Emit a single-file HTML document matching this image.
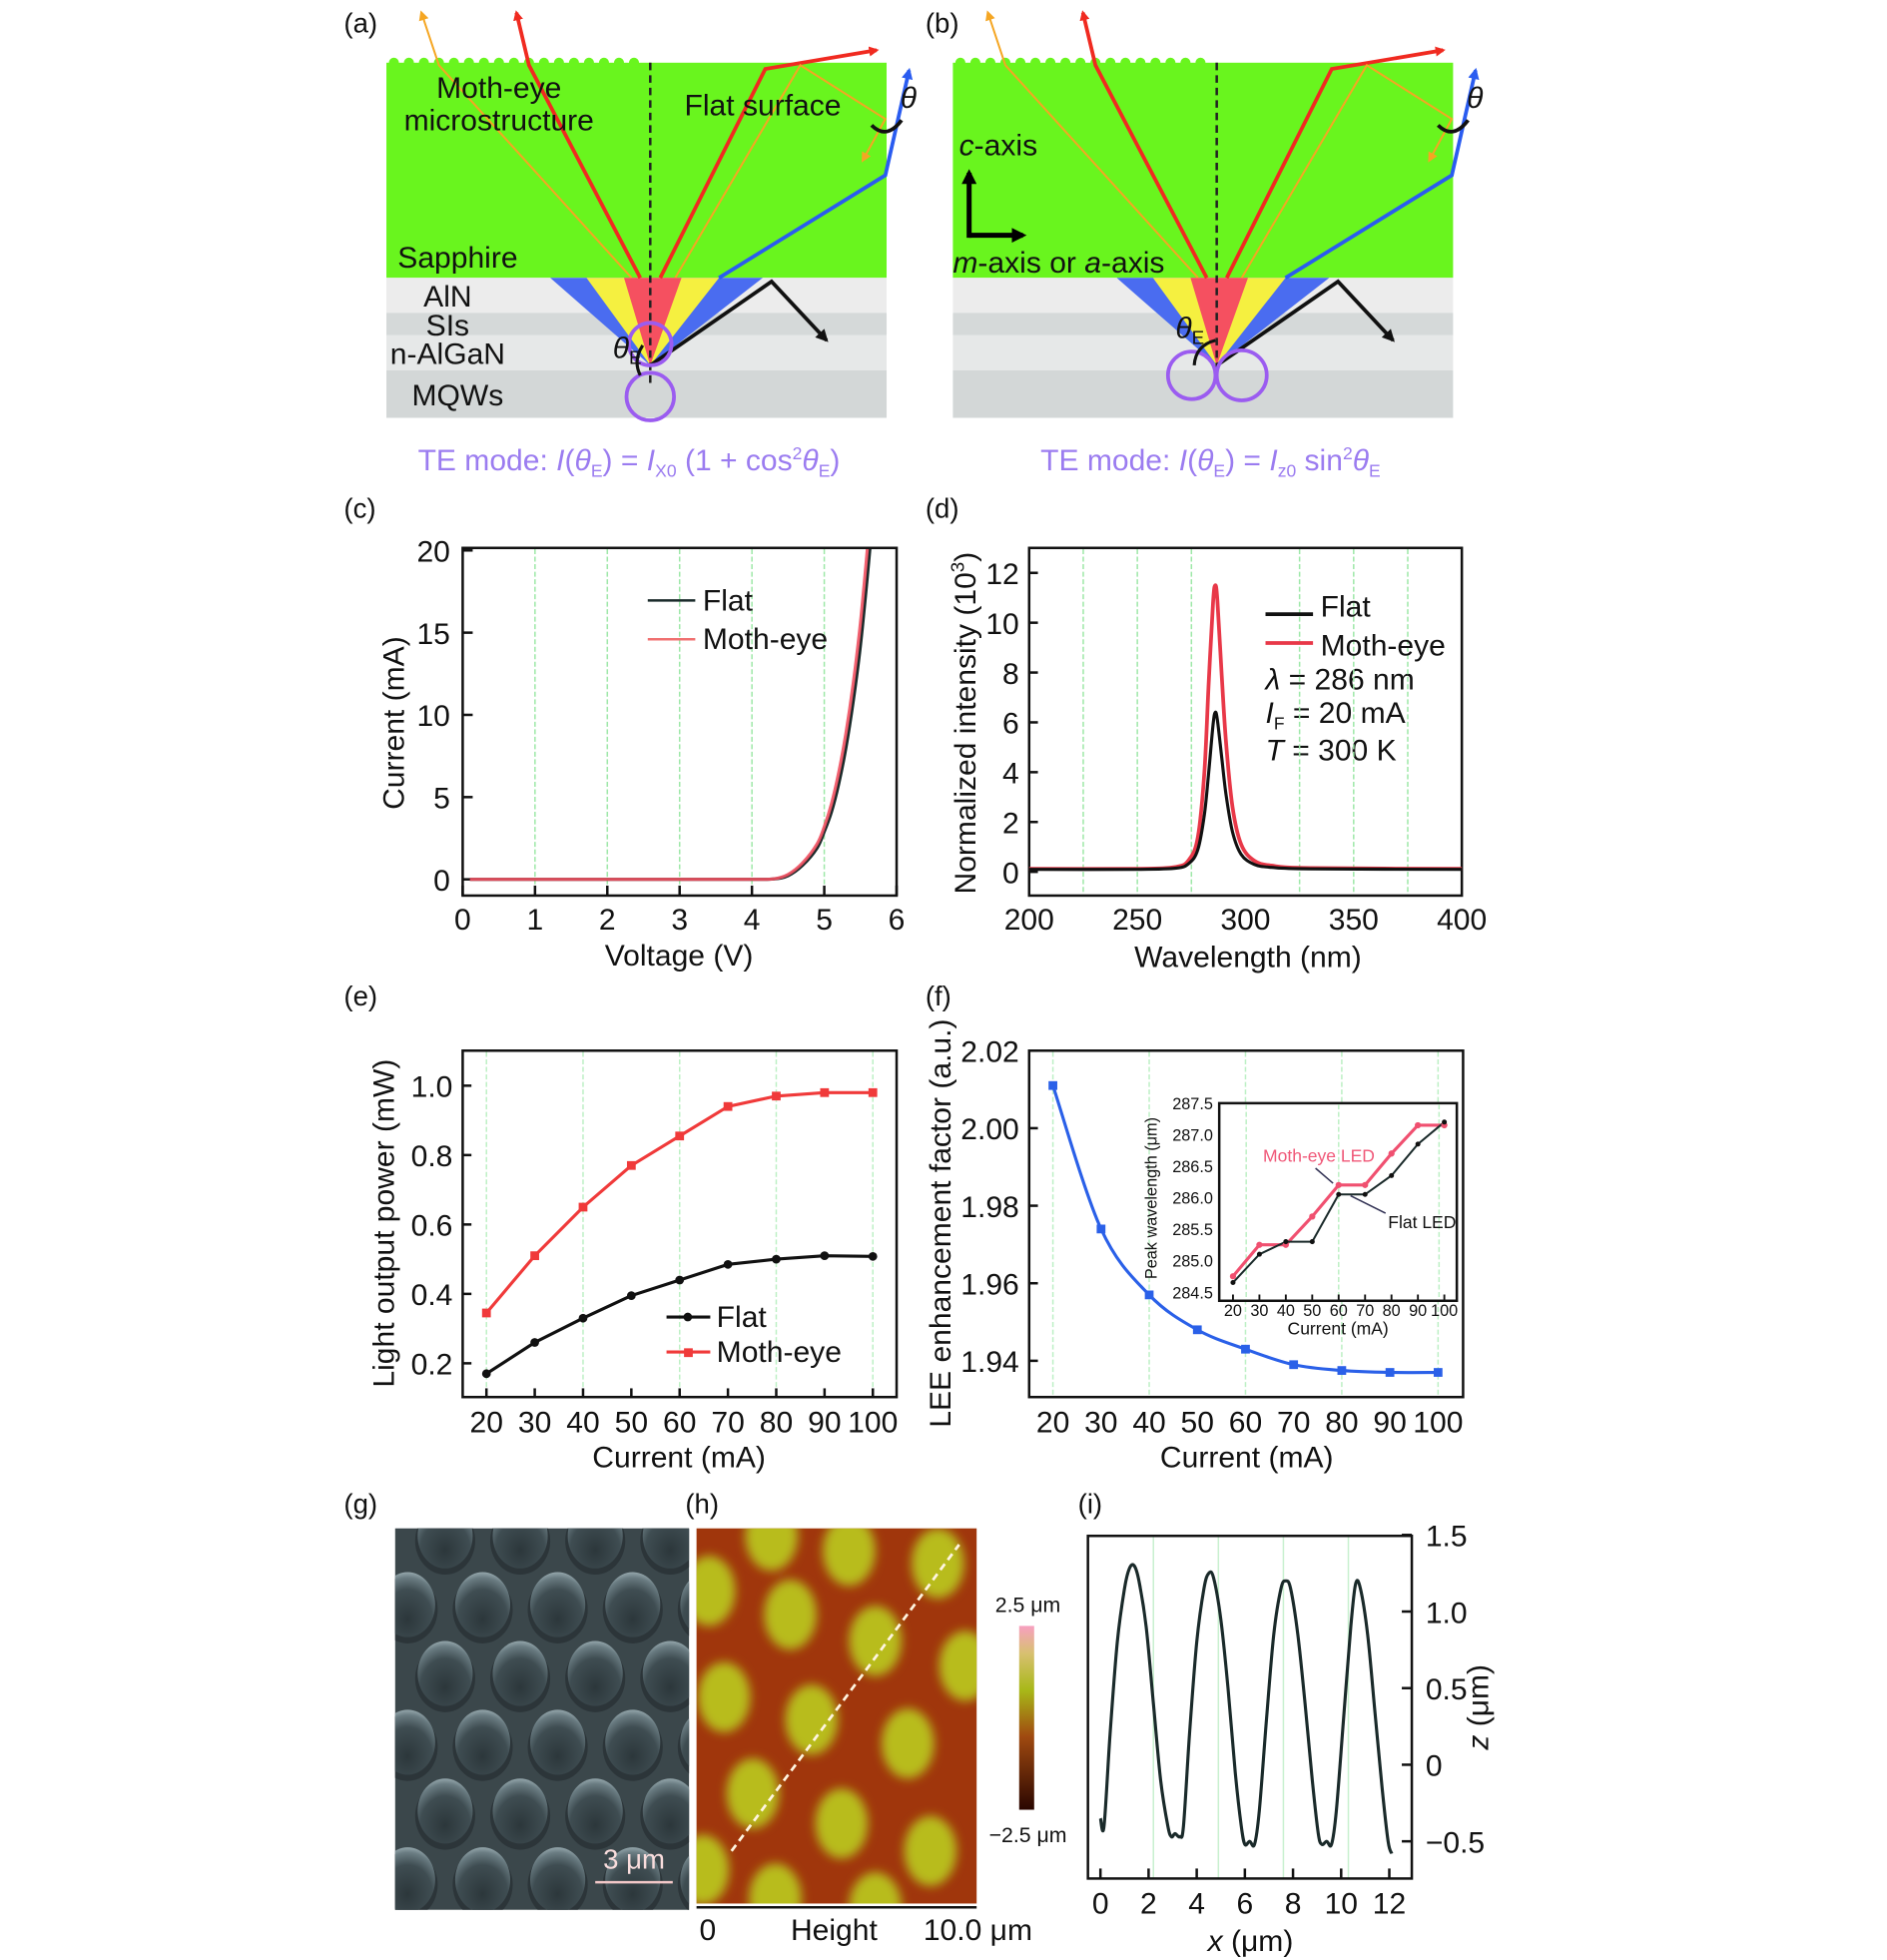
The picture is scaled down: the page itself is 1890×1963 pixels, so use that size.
<!DOCTYPE html>
<html><head><meta charset="utf-8"><title>Moth-eye LED figure</title>
<style>
html,body{margin:0;padding:0;background:#fff;}
svg{display:block;font-family:"Liberation Sans",sans-serif;}
.t{font-size:24px;fill:#111;}
.lab{font-size:22px;fill:#111;}
</style></head>
<body>
<svg id="fig" width="1890" height="1963" viewBox="0 0 1509 1567" xmlns="http://www.w3.org/2000/svg">
<defs>
<radialGradient id="bumpg" cx="0.5" cy="0.72" r="0.75">
<stop offset="0" stop-color="#2c373b"/><stop offset="0.6" stop-color="#3f4d52"/><stop offset="0.85" stop-color="#6a7c82"/><stop offset="1" stop-color="#a4b6bb"/></radialGradient>
<filter id="blur4"><feGaussianBlur stdDeviation="4"/></filter>
<linearGradient id="cbar" x1="0" y1="0" x2="0" y2="1">
<stop offset="0" stop-color="#f7a0c0"/><stop offset="0.15" stop-color="#d8c070"/><stop offset="0.35" stop-color="#a8b818"/><stop offset="0.6" stop-color="#a04a10"/><stop offset="1" stop-color="#2a0600"/></linearGradient>
<clipPath id="clipG"><rect x="316" y="1222" width="235" height="305"/></clipPath>
<clipPath id="clipH"><rect x="557" y="1222" width="224" height="300"/></clipPath>
<clipPath id="clipC"><rect x="370" y="439" width="347" height="277"/></clipPath>
<marker id="arR" markerWidth="8" markerHeight="8" refX="6" refY="4" orient="auto" markerUnits="userSpaceOnUse"><path d="M0,0 L8,4 L0,8 z" fill="#f02a20"/></marker>
<marker id="arY" markerWidth="8" markerHeight="8" refX="6" refY="4" orient="auto" markerUnits="userSpaceOnUse"><path d="M0,0 L8,4 L0,8 z" fill="#f5a623"/></marker>
<marker id="arB" markerWidth="9" markerHeight="9" refX="7" refY="4.5" orient="auto" markerUnits="userSpaceOnUse"><path d="M0,0 L9,4.5 L0,9 z" fill="#2a5cf0"/></marker>
<marker id="arK" markerWidth="10" markerHeight="10" refX="8" refY="5" orient="auto" markerUnits="userSpaceOnUse"><path d="M0,0 L10,5 L0,10 z" fill="#111"/></marker>
<marker id="arK2" markerWidth="12" markerHeight="12" refX="9" refY="6" orient="auto" markerUnits="userSpaceOnUse"><path d="M0,0 L12,6 L0,12 z" fill="#000"/></marker>
<g id="diagram">
  <rect x="0" y="50" width="400" height="172" fill="#69f51e"/>
  <rect x="0" y="222" width="400" height="28" fill="#ececec"/>
  <rect x="0" y="250" width="400" height="18" fill="#d5d9d9"/>
  <rect x="0" y="268" width="400" height="28" fill="#e6e8e8"/>
  <rect x="0" y="296" width="400" height="38" fill="#d3d7d7"/>
  <g fill="#69f51e"><circle cx="6" cy="50" r="4"/><circle cx="18" cy="50" r="4"/><circle cx="30" cy="50" r="4"/><circle cx="42" cy="50" r="4"/><circle cx="54" cy="50" r="4"/><circle cx="66" cy="50" r="4"/><circle cx="78" cy="50" r="4"/><circle cx="90" cy="50" r="4"/><circle cx="102" cy="50" r="4"/><circle cx="114" cy="50" r="4"/><circle cx="126" cy="50" r="4"/><circle cx="138" cy="50" r="4"/><circle cx="150" cy="50" r="4"/><circle cx="162" cy="50" r="4"/><circle cx="174" cy="50" r="4"/><circle cx="186" cy="50" r="4"/><circle cx="198" cy="50" r="4"/></g>
  <polygon points="211,292 131,222 301,222" fill="#4a6cf0"/>
  <polygon points="211,292 160,222 266,222" fill="#f5f040"/>
  <polygon points="211,292 190,222 236,222" fill="#f55060"/>
  <line x1="211" y1="50" x2="211" y2="310" stroke="#222" stroke-width="2" stroke-dasharray="6,4"/>
  <polyline points="196,222 42,52 28,10" fill="none" stroke="#f5a623" stroke-width="1.6" marker-end="url(#arY)"/>
  <polyline points="203,222 114,52 104,10" fill="none" stroke="#f02a20" stroke-width="3" marker-end="url(#arR)"/>
  <polyline points="219,222 303,55 392,40" fill="none" stroke="#f02a20" stroke-width="3" marker-end="url(#arR)"/>
  <polyline points="231,222 331,52 399,95 381,128" fill="none" stroke="#f5a623" stroke-width="1.6" marker-end="url(#arY)"/>
  <polyline points="266,222 399,140 418,56" fill="none" stroke="#2a5cf0" stroke-width="3" marker-end="url(#arB)"/>
  <polyline points="211,292 308,225 352,272" fill="none" stroke="#111" stroke-width="3" marker-end="url(#arK)"/>
  <path d="M388,100 Q400,112 412,96" fill="none" stroke="#111" stroke-width="3"/>
  <text x="411" y="86" class="t" font-style="italic">θ</text>
</g>
</defs>

<g>
<text x="275" y="26" class="lab">(a)</text>
<use href="#diagram" x="309" y="0"/>
<text x="399" y="78" class="t" text-anchor="middle">Moth-eye</text>
<text x="399" y="104" class="t" text-anchor="middle">microstructure</text>
<text x="610" y="92" class="t" text-anchor="middle">Flat surface</text>
<text x="318" y="214" class="t">Sapphire</text>
<text x="358" y="245" class="t" text-anchor="middle">AlN</text>
<text x="358" y="268" class="t" text-anchor="middle">SIs</text>
<text x="358" y="291" class="t" text-anchor="middle">n-AlGaN</text>
<text x="366" y="324" class="t" text-anchor="middle">MQWs</text>
<circle cx="520" cy="275" r="17" fill="none" stroke="#9b5cf0" stroke-width="3"/>
<circle cx="520" cy="317" r="19" fill="none" stroke="#9b5cf0" stroke-width="3"/>
<path d="M512,300 Q506,288 514,276" fill="none" stroke="#111" stroke-width="2.5"/>
<text x="490" y="286" class="t" font-style="italic">θ<tspan font-size="15" dy="5" font-style="normal">E</tspan></text>
<text x="503" y="376" text-anchor="middle" font-size="24" fill="#9b7cf0">TE mode: <tspan font-style="italic">I</tspan>(<tspan font-style="italic">θ</tspan><tspan font-size="14" dy="5">E</tspan><tspan dy="-5">) = </tspan><tspan font-style="italic">I</tspan><tspan font-size="14" dy="5">X0</tspan><tspan dy="-5"> (1 + cos</tspan><tspan font-size="14" dy="-9">2</tspan><tspan dy="9" font-style="italic">θ</tspan><tspan font-size="14" dy="5">E</tspan><tspan dy="-5">)</tspan></text>
</g>

<g>
<text x="740" y="26" class="lab">(b)</text>
<use href="#diagram" x="762" y="0"/>
<text x="767" y="124" class="t"><tspan font-style="italic">c</tspan>-axis</text>
<line x1="775" y1="190" x2="775" y2="138" stroke="#000" stroke-width="4" marker-end="url(#arK2)"/>
<line x1="775" y1="188" x2="818" y2="188" stroke="#000" stroke-width="4" marker-end="url(#arK2)"/>
<text x="762" y="218" class="t"><tspan font-style="italic">m</tspan>-axis or <tspan font-style="italic">a</tspan>-axis</text>
<circle cx="953" cy="300" r="19" fill="none" stroke="#9b5cf0" stroke-width="3"/>
<circle cx="993" cy="300" r="20" fill="none" stroke="#9b5cf0" stroke-width="3"/>
<path d="M955,292 Q956,276 972,272" fill="none" stroke="#111" stroke-width="2.5"/>
<text x="940" y="270" class="t" font-style="italic">θ<tspan font-size="15" dy="5" font-style="normal">E</tspan></text>
<text x="968" y="376" text-anchor="middle" font-size="24" fill="#9b7cf0">TE mode: <tspan font-style="italic">I</tspan>(<tspan font-style="italic">θ</tspan><tspan font-size="14" dy="5">E</tspan><tspan dy="-5">) = </tspan><tspan font-style="italic">I</tspan><tspan font-size="14" dy="5">z0</tspan><tspan dy="-5"> sin</tspan><tspan font-size="14" dy="-9">2</tspan><tspan dy="9" font-style="italic">θ</tspan><tspan font-size="14" dy="5">E</tspan></text>
</g>

<text x="275" y="414" class="lab">(c)</text>
<text x="740" y="414" class="lab">(d)</text>
<text x="275" y="804" class="lab">(e)</text>
<text x="740" y="804" class="lab">(f)</text>
<text x="275" y="1210" class="lab">(g)</text>
<text x="548" y="1210" class="lab">(h)</text>
<text x="862" y="1210" class="lab">(i)</text>

<!-- static rich text labels -->
<text x="1012" y="551" class="t"><tspan font-style="italic">λ</tspan> = 286 nm</text>
<text x="1012" y="578" class="t"><tspan font-style="italic">I</tspan><tspan font-size="14" dy="5">F</tspan><tspan dy="-5"> = 20 mA</tspan></text>
<text x="1012" y="608" class="t"><tspan font-style="italic">T</tspan> = 300 K</text>
<text x="0" y="0" text-anchor="middle" class="t" transform="translate(780,578) rotate(-90)">Normalized intensity (10<tspan font-size="15" dy="-9">3</tspan><tspan dy="9">)</tspan></text>
<text x="1000" y="1560" text-anchor="middle" class="t"><tspan font-style="italic">x</tspan> (μm)</text>
<text x="0" y="0" text-anchor="middle" class="t" transform="translate(1190,1365) rotate(-90)"><tspan font-style="italic">z</tspan> (μm)</text>

<g id="charts"></g>

<g>
<rect x="316" y="1222" width="235" height="305" fill="#3b474b"/>
<g id="semBumps" clip-path="url(#clipG)"></g>
<line x1="476" y1="1505" x2="538" y2="1505" stroke="#f3c8c8" stroke-width="2"/>
<text x="507" y="1494" text-anchor="middle" font-size="22" fill="#f8dcdc">3 μm</text>
</g>

<g>
<rect x="557" y="1222" width="224" height="300" fill="#a0360c"/>
<g id="afmBlobs" clip-path="url(#clipH)" filter="url(#blur4)"></g>
<line x1="585" y1="1480" x2="767" y2="1235" stroke="#fff5e0" stroke-width="2.2" stroke-dasharray="6,4"/>
<rect x="815" y="1300" width="12" height="147" fill="url(#cbar)"/>
<text x="822" y="1289" text-anchor="middle" font-size="17" fill="#111">2.5 μm</text>
<text x="822" y="1473" text-anchor="middle" font-size="17" fill="#111">−2.5 μm</text>
<line x1="557" y1="1525" x2="781" y2="1525" stroke="#111" stroke-width="2"/>
<text x="566" y="1551" text-anchor="middle" class="t">0</text>
<text x="667" y="1551" text-anchor="middle" class="t">Height</text>
<text x="782" y="1551" text-anchor="middle" class="t">10.0 μm</text>
</g>

<script>
const ivVoltage = [0.1, 1, 2, 3, 4, 4.3, 4.5, 4.7, 4.9, 5.0, 5.1, 5.2, 5.3, 5.4, 5.5, 5.6, 5.7];
const ivFlat    = [0, 0, 0, 0, 0, 0.02, 0.22, 0.85, 1.9, 2.9, 4.1, 5.8, 8.0, 10.8, 14.2, 18.6, 23.5];
const ivMoth    = [0, 0, 0, 0, 0, 0.03, 0.3, 1.0, 2.15, 3.2, 4.6, 6.5, 8.9, 11.9, 15.6, 20.3, 25.5];
const ivXTicks = [0, 1, 2, 3, 4, 5, 6];
const ivYTicks = [0, 5, 10, 15, 20];
const specWl   = [200, 250, 268, 274, 278, 281, 283, 285, 286, 287, 289, 291, 294, 298, 304, 312, 330, 400];
const specFlat = [0.1, 0.1, 0.15, 0.35, 0.9, 2.3, 4.0, 5.9, 6.4, 6.1, 4.6, 3.1, 1.6, 0.7, 0.3, 0.18, 0.12, 0.1];
const specMoth = [0.12, 0.12, 0.2, 0.5, 1.4, 4.0, 7.6, 10.8, 11.5, 10.9, 7.9, 5.2, 2.6, 1.1, 0.45, 0.25, 0.15, 0.12];
const specXTicks = [200, 250, 300, 350, 400];
const specYTicks = [0, 2, 4, 6, 8, 10, 12];
const specGrid = [225, 250, 275, 325, 350, 375];
const lopCurrent = [20, 30, 40, 50, 60, 70, 80, 90, 100];
const lopFlat = [0.17, 0.26, 0.33, 0.395, 0.44, 0.485, 0.50, 0.51, 0.508];
const lopMoth = [0.345, 0.51, 0.65, 0.77, 0.855, 0.94, 0.97, 0.98, 0.98];
const lopYTicks = [0.2, 0.4, 0.6, 0.8, 1.0];
const curTicks = [20, 30, 40, 50, 60, 70, 80, 90, 100];
const curGrid = [20, 40, 60, 80, 100];
const leeValues = [2.011, 1.974, 1.957, 1.948, 1.943, 1.939, 1.9375, 1.937, 1.937];
const leeYTicks = [1.94, 1.96, 1.98, 2.00, 2.02];
const peakMoth = [284.75, 285.25, 285.25, 285.7, 286.2, 286.2, 286.7, 287.15, 287.15];
const peakFlat = [284.65, 285.1, 285.3, 285.3, 286.05, 286.05, 286.35, 286.85, 287.2];
const peakYTicks = [284.5, 285.0, 285.5, 286.0, 286.5, 287.0, 287.5];
const profX = [0,0.15,0.4,0.7,1.0,1.2,1.4,1.6,1.9,2.2,2.5,2.8,2.95,3.1,3.3,3.45,3.7,4.0,4.3,4.5,4.7,5.0,5.3,5.6,5.85,6.0,6.2,6.4,6.6,6.9,7.2,7.5,7.7,7.9,8.2,8.5,8.8,9.05,9.2,9.4,9.6,9.8,10.1,10.4,10.6,10.8,11.1,11.4,11.7,11.95,12.1];
const profZ = [-0.35,-0.4,0.2,0.8,1.15,1.28,1.3,1.2,0.9,0.4,-0.1,-0.4,-0.47,-0.45,-0.47,-0.4,0.2,0.8,1.15,1.25,1.22,0.95,0.5,-0.05,-0.4,-0.52,-0.5,-0.52,-0.3,0.3,0.85,1.15,1.2,1.15,0.85,0.4,-0.1,-0.45,-0.52,-0.5,-0.52,-0.3,0.3,0.9,1.18,1.15,0.85,0.35,-0.15,-0.5,-0.58];
const profXTicks = [0, 2, 4, 6, 8, 10, 12];
const profYTicks = [-0.5, 0, 0.5, 1.0, 1.5];
const profYLabels = ['−0.5', '0', '0.5', '1.0', '1.5'];

const NS = 'http://www.w3.org/2000/svg';
const root = document.getElementById('charts');
function mk(tag, attrs, parent) {
  const el = document.createElementNS(NS, tag);
  for (const k in attrs) el.setAttribute(k, attrs[k]);
  (parent || root).appendChild(el);
  return el;
}
function smooth(pts) {
  let d = 'M' + pts[0][0] + ',' + pts[0][1];
  for (let i = 0; i < pts.length - 1; i++) {
    const p0 = pts[Math.max(0, i - 1)], p1 = pts[i], p2 = pts[i + 1], p3 = pts[Math.min(pts.length - 1, i + 2)];
    const c1x = p1[0] + (p2[0] - p0[0]) / 6, c1y = p1[1] + (p2[1] - p0[1]) / 6;
    const c2x = p2[0] - (p3[0] - p1[0]) / 6, c2y = p2[1] - (p3[1] - p1[1]) / 6;
    d += ' C' + c1x + ',' + c1y + ' ' + c2x + ',' + c2y + ' ' + p2[0] + ',' + p2[1];
  }
  return d;
}
function fmt(v, dec) { return v.toFixed(dec); }

const xc = v => 370 + v * 57.83, yc = i => 703 - i * 13.15;
const xd = w => 823 + (w - 200) * 1.73, yd = v => 697 - v * 19.92;
const xe = c => 389 + (c - 20) * 3.8625, ye = p => 1090 - (p - 0.2) * 277.5;
const xf = c => 842 + (c - 20) * 3.85, yf = v => 1088 - (v - 1.94) * 3100;
const xi = c => 986 + (c - 20) * 2.1125, yi = v => 1033 - (v - 284.5) * 50.33;
const xz = x => 880 + x * 19.25, yz = z => 1411 - z * 122.5;

let el;
// ===== (c) =====
for (const v of [1,2,3,4,5]) {
  el = mk('line', {x1: xc(v), x2: xc(v), y1: 439, y2: 716, stroke: '#9ee8a8', 'stroke-width': 1.2, 'stroke-dasharray': '4,2'});
  
  
}
el = mk('rect', {x: 370, y: 438, width: 347, height: 278, fill: 'none', stroke: '#111', 'stroke-width': 2});


for (const v of ivXTicks) {
  el = mk('line', {x1: xc(v), x2: xc(v), y1: 716, y2: 708, stroke: '#111', 'stroke-width': 2});
  el = mk('text', {x: xc(v), y: 743, 'text-anchor': 'middle', class: 't'});
  el.textContent = String(v);
  
  
}
for (const v of ivYTicks) {
  el = mk('line', {x1: 370, x2: 378, y1: yc(v), y2: yc(v), stroke: '#111', 'stroke-width': 2});
  el = mk('text', {x: 360, y: yc(v) + 9, 'text-anchor': 'end', class: 't'});
  el.textContent = String(v);
  
  
}
el = mk('path', {d: smooth(ivVoltage.map((v, i) => [xc(v), yc(ivFlat[i])])), fill: 'none', stroke: '#1a2a2a', 'stroke-width': 2.5, 'clip-path': 'url(#clipC)'});


el = mk('path', {d: smooth(ivVoltage.map((v, i) => [xc(v), yc(ivMoth[i])])), fill: 'none', stroke: '#f05060', 'stroke-width': 2.5, 'clip-path': 'url(#clipC)', opacity: 0.9});


el = mk('line', {x1: 518, x2: 556, y1: 480, y2: 480, stroke: '#1a2a2a', 'stroke-width': 2});


el = mk('text', {x: 562, y: 488, class: 't'}); el.textContent = 'Flat';


el = mk('line', {x1: 518, x2: 556, y1: 511, y2: 511, stroke: '#f07070', 'stroke-width': 2});


el = mk('text', {x: 562, y: 519, class: 't'}); el.textContent = 'Moth-eye';


el = mk('text', {x: 543, y: 772, 'text-anchor': 'middle', class: 't'}); el.textContent = 'Voltage (V)';


el = mk('text', {x: 0, y: 0, 'text-anchor': 'middle', class: 't', transform: 'translate(323,578) rotate(-90)'}); el.textContent = 'Current (mA)';



// ===== (d) =====
for (const w of specGrid) {
  el = mk('line', {x1: xd(w), x2: xd(w), y1: 439, y2: 716, stroke: '#9ee8a8', 'stroke-width': 1.2, 'stroke-dasharray': '4,2'});
  
  
}
el = mk('rect', {x: 823, y: 438, width: 346, height: 278, fill: 'none', stroke: '#111', 'stroke-width': 2});


for (const w of specXTicks) {
  el = mk('text', {x: xd(w), y: 743, 'text-anchor': 'middle', class: 't'});
  el.textContent = String(w);
  
  
}
for (const v of specYTicks) {
  el = mk('line', {x1: 823, x2: 830, y1: yd(v), y2: yd(v), stroke: '#111', 'stroke-width': 2});
  el = mk('text', {x: 815, y: yd(v) + 9, 'text-anchor': 'end', class: 't'});
  el.textContent = String(v);
  
  
}
el = mk('path', {d: smooth(specWl.map((w, i) => [xd(w), yd(specMoth[i])])), fill: 'none', stroke: '#e83848', 'stroke-width': 3});


el = mk('path', {d: smooth(specWl.map((w, i) => [xd(w), yd(specFlat[i])])), fill: 'none', stroke: '#111', 'stroke-width': 2.5});


el = mk('line', {x1: 1012, x2: 1050, y1: 491, y2: 491, stroke: '#111', 'stroke-width': 3});
el = mk('text', {x: 1056, y: 493, class: 't'}); el.textContent = 'Flat';


el = mk('line', {x1: 1012, x2: 1050, y1: 514, y2: 514, stroke: '#e83848', 'stroke-width': 3});
el = mk('text', {x: 1056, y: 524, class: 't'}); el.textContent = 'Moth-eye';


el = mk('text', {x: 998, y: 773, 'text-anchor': 'middle', class: 't'}); el.textContent = 'Wavelength (nm)';



// ===== (e) =====
for (const c of curGrid) {
  el = mk('line', {x1: xe(c), x2: xe(c), y1: 841, y2: 1117, stroke: '#bdf0c5', 'stroke-width': 1.2, 'stroke-dasharray': '4,2'});
  
  
}
el = mk('rect', {x: 370, y: 840, width: 347, height: 277, fill: 'none', stroke: '#111', 'stroke-width': 2});


for (const c of curTicks) {
  el = mk('line', {x1: xe(c), x2: xe(c), y1: 1117, y2: 1110, stroke: '#111', 'stroke-width': 2});
  el = mk('text', {x: xe(c), y: 1145, 'text-anchor': 'middle', class: 't'});
  el.textContent = String(c);
  
  
}
for (const v of lopYTicks) {
  el = mk('line', {x1: 370, x2: 377, y1: ye(v), y2: ye(v), stroke: '#111', 'stroke-width': 2});
  el = mk('text', {x: 362, y: ye(v) + 9, 'text-anchor': 'end', class: 't'});
  el.textContent = fmt(v, 1);
  
  
}
el = mk('polyline', {points: lopCurrent.map((c, i) => xe(c) + ',' + ye(lopMoth[i])).join(' '), fill: 'none', stroke: '#f03a3a', 'stroke-width': 2.5});


el = mk('polyline', {points: lopCurrent.map((c, i) => xe(c) + ',' + ye(lopFlat[i])).join(' '), fill: 'none', stroke: '#111', 'stroke-width': 2.5});


lopCurrent.forEach((c, i) => {
  el = mk('rect', {x: xe(c) - 3.5, y: ye(lopMoth[i]) - 3.5, width: 7, height: 7, fill: '#f03a3a'});
  
  
  el = mk('circle', {cx: xe(c), cy: ye(lopFlat[i]), r: 3.5, fill: '#111'});
  
  
});
el = mk('line', {x1: 533, x2: 568, y1: 1053, y2: 1053, stroke: '#111', 'stroke-width': 2.5});
el = mk('circle', {cx: 550, cy: 1053, r: 3.5, fill: '#111'});
el = mk('text', {x: 573, y: 1061, class: 't'}); el.textContent = 'Flat';


el = mk('line', {x1: 533, x2: 568, y1: 1081, y2: 1081, stroke: '#f03a3a', 'stroke-width': 2.5});
el = mk('rect', {x: 547, y: 1078, width: 7, height: 7, fill: '#f03a3a'});
el = mk('text', {x: 573, y: 1089, class: 't'}); el.textContent = 'Moth-eye';


el = mk('text', {x: 543, y: 1173, 'text-anchor': 'middle', class: 't'}); el.textContent = 'Current (mA)';


el = mk('text', {x: 0, y: 0, 'text-anchor': 'middle', class: 't', transform: 'translate(315,978) rotate(-90)'}); el.textContent = 'Light output power (mW)';



// ===== (f) =====
for (const c of curGrid) {
  el = mk('line', {x1: xf(c), x2: xf(c), y1: 841, y2: 1117, stroke: '#bdf0c5', 'stroke-width': 1.2, 'stroke-dasharray': '4,2'});
  
  
}
el = mk('rect', {x: 823, y: 840, width: 347, height: 277, fill: 'none', stroke: '#111', 'stroke-width': 2});


for (const c of curTicks) {
  el = mk('text', {x: xf(c), y: 1145, 'text-anchor': 'middle', class: 't'});
  el.textContent = String(c);
  
  
}
for (const v of leeYTicks) {
  el = mk('line', {x1: 823, x2: 830, y1: yf(v), y2: yf(v), stroke: '#111', 'stroke-width': 2});
  el = mk('text', {x: 815, y: yf(v) + 9, 'text-anchor': 'end', class: 't'});
  el.textContent = fmt(v, 2);
  
  
}
el = mk('path', {d: smooth(lopCurrent.map((c, i) => [xf(c), yf(leeValues[i])])), fill: 'none', stroke: '#2a60e8', 'stroke-width': 2.5});


lopCurrent.forEach((c, i) => {
  el = mk('rect', {x: xf(c) - 3.5, y: yf(leeValues[i]) - 3.5, width: 7, height: 7, fill: '#2a60e8'});
  
  
});
el = mk('text', {x: 997, y: 1173, 'text-anchor': 'middle', class: 't'}); el.textContent = 'Current (mA)';


el = mk('text', {x: 0, y: 0, 'text-anchor': 'middle', class: 't', transform: 'translate(760,978) rotate(-90)'}); el.textContent = 'LEE enhancement factor (a.u.)';


el = mk('rect', {x: 975, y: 882, width: 190, height: 158, fill: '#fff', stroke: '#111', 'stroke-width': 2});


for (const c of [25, 60, 98]) {
  el = mk('line', {x1: xi(c), x2: xi(c), y1: 883, y2: 1039, stroke: '#bdf0c5', 'stroke-width': 1.2, 'stroke-dasharray': '4,2'});
  
  
}
for (const c of curTicks) {
  el = mk('line', {x1: xi(c), x2: xi(c), y1: 1040, y2: 1035, stroke: '#111', 'stroke-width': 1.5});
  el = mk('text', {x: xi(c), y: 1052, 'text-anchor': 'middle', 'font-size': 13, fill: '#111'});
  el.textContent = String(c);
  
  
}
for (const v of peakYTicks) {
  el = mk('text', {x: 970, y: yi(v) + 5, 'text-anchor': 'end', 'font-size': 13, fill: '#111'});
  el.textContent = fmt(v, 1);
  
  
}
el = mk('polyline', {points: lopCurrent.map((c, i) => xi(c) + ',' + yi(peakMoth[i])).join(' '), fill: 'none', stroke: '#f05070', 'stroke-width': 2.5});


el = mk('polyline', {points: lopCurrent.map((c, i) => xi(c) + ',' + yi(peakFlat[i])).join(' '), fill: 'none', stroke: '#1a2a2a', 'stroke-width': 1.6});


lopCurrent.forEach((c, i) => {
  el = mk('circle', {cx: xi(c), cy: yi(peakMoth[i]), r: 2.5, fill: '#f05070'});
  
  
  el = mk('circle', {cx: xi(c), cy: yi(peakFlat[i]), r: 2, fill: '#111'});
  
  
});
el = mk('text', {x: 1010, y: 929, 'font-size': 14, fill: '#f05878'}); el.textContent = 'Moth-eye LED';


el = mk('line', {x1: 1052, x2: 1066, y1: 934, y2: 946, stroke: '#335', 'stroke-width': 1.2});
el = mk('text', {x: 1110, y: 982, 'font-size': 14, fill: '#111'}); el.textContent = 'Flat LED';


el = mk('line', {x1: 1108, x2: 1080, y1: 970, y2: 956, stroke: '#335', 'stroke-width': 1.2});
el = mk('text', {x: 1070, y: 1067, 'text-anchor': 'middle', 'font-size': 14, fill: '#111'}); el.textContent = 'Current (mA)';


el = mk('text', {x: 0, y: 0, 'text-anchor': 'middle', 'font-size': 13, fill: '#111', transform: 'translate(925,958) rotate(-90)'}); el.textContent = 'Peak wavelength (μm)';



// ===== (i) =====
for (const x of [2.2, 4.9, 7.6, 10.3]) {
  el = mk('line', {x1: xz(x), x2: xz(x), y1: 1229, y2: 1502, stroke: '#c8f0cf', 'stroke-width': 1.2});
  
  
}
el = mk('rect', {x: 870, y: 1228, width: 259, height: 274, fill: 'none', stroke: '#111', 'stroke-width': 2});


for (const x of profXTicks) {
  el = mk('line', {x1: xz(x), x2: xz(x), y1: 1502, y2: 1494, stroke: '#111', 'stroke-width': 2});
  el = mk('text', {x: xz(x), y: 1530, 'text-anchor': 'middle', class: 't'});
  el.textContent = String(x);
  
  
}
profYTicks.forEach((z, i) => {
  el = mk('line', {x1: 1129, x2: 1121, y1: yz(z), y2: yz(z), stroke: '#111', 'stroke-width': 2});
  el = mk('text', {x: 1140, y: yz(z) + 9, class: 't'});
  el.textContent = profYLabels[i];
  
  
});
el = mk('path', {d: smooth(profX.map((x, i) => [xz(x), yz(profZ[i])])), fill: 'none', stroke: '#1a2a2a', 'stroke-width': 2.5});



// ===== SEM bumps =====
const sem = document.getElementById('semBumps');
for (let r = 0; r < 7; r++) {
  for (let c = 0; c < 6; c++) {
    const cx = 316 + (r % 2 ? 10 : 40) + c * 60;
    const cy = 1228 + r * 55;
    el = mk('ellipse', {cx: cx, cy: cy + 4, rx: 24, ry: 27, fill: '#2c3539'}, sem);
    el = mk('ellipse', {cx: cx, cy: cy, rx: 22, ry: 26, fill: 'url(#bumpg)'}, sem);
    
    
  }
}
// ===== AFM blobs =====
const afm = document.getElementById('afmBlobs');
const blobs = [[617,1228],[679,1240],[750,1250],[567,1272],[632,1291],[700,1312],[772,1332],[579,1357],[649,1375],[726,1394],[602,1434],[673,1458],[744,1480],[562,1495],[620,1518],[700,1525]];
for (const b of blobs) {
  el = mk('ellipse', {cx: b[0], cy: b[1], rx: 21, ry: 28, fill: '#b8bc1c'}, afm);
  
  
}
</script>
</svg>
</body></html>
